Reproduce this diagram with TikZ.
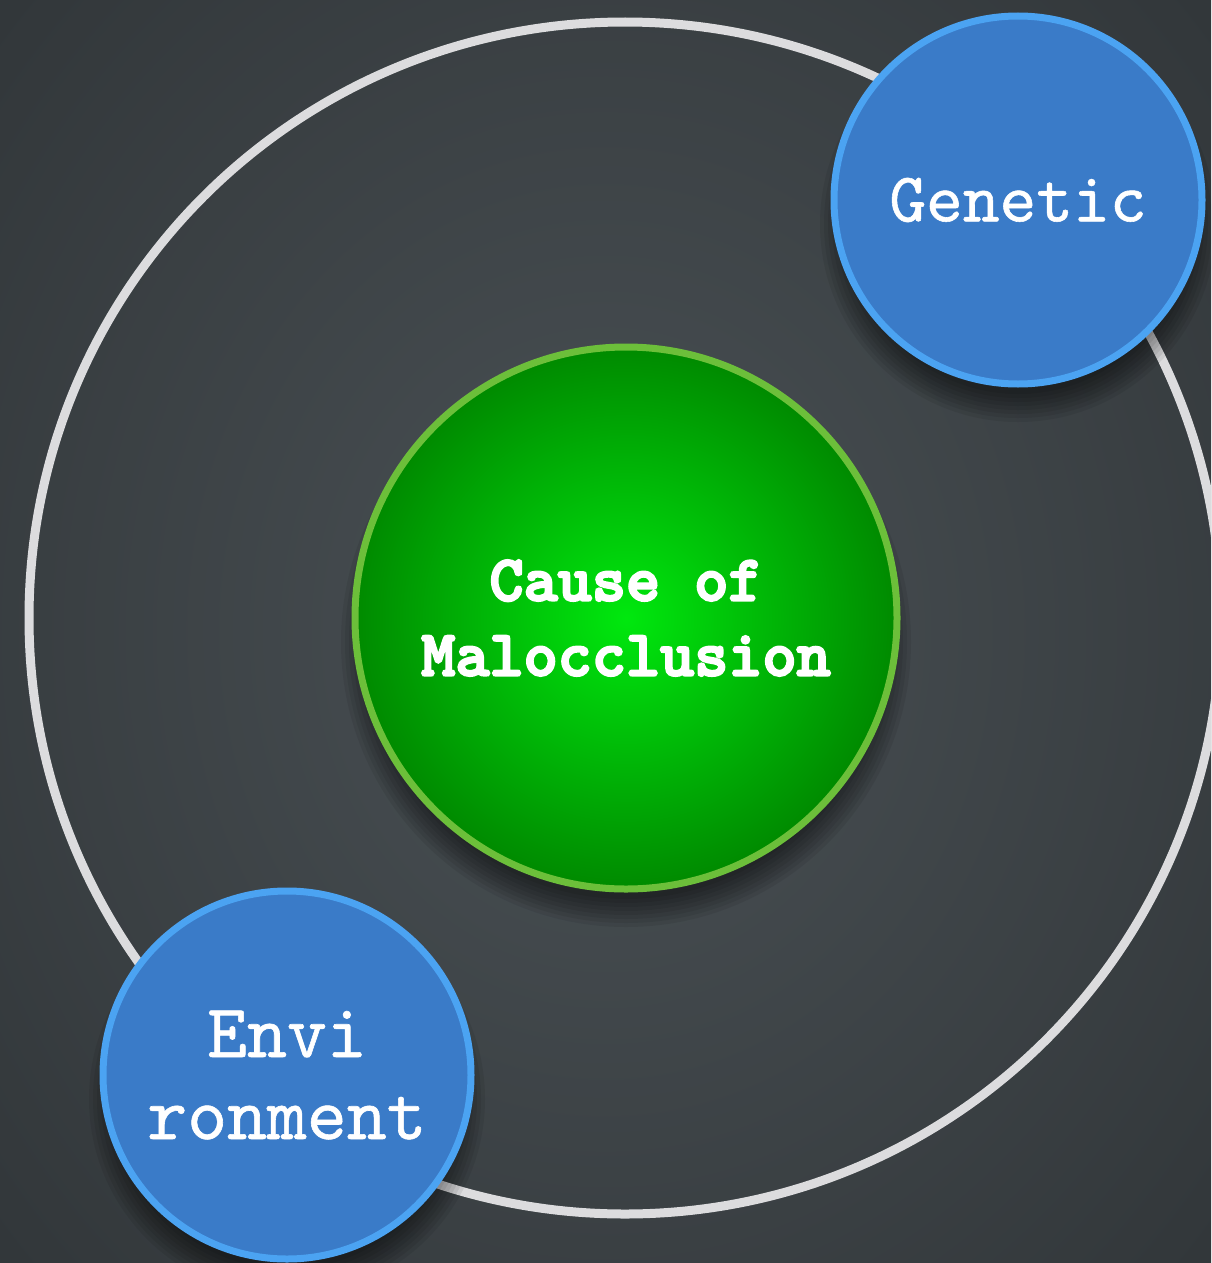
\documentclass[tikz,border=0pt]{standalone}
\usepackage{fontspec}
\usepackage{tikz}

\newfontfamily\causefont{lmmonolt10-bold}[Extension=.otf, FakeBold=3.5]
\newfontfamily\factorfont{lmmono10-regular}[Extension=.otf, FakeBold=0.8]

\definecolor{bgmid}{HTML}{4A5155}
\definecolor{bgedge}{HTML}{32373A}
\definecolor{ringgray}{HTML}{DCDCDE}
\definecolor{causecore}{HTML}{00E80E}
\definecolor{causeedge}{HTML}{008A00}
\definecolor{causeline}{HTML}{6CBF3A}
\definecolor{factorfill}{HTML}{3A7BC8}
\definecolor{factorline}{HTML}{4BA3F2}

\newcommand{\castshadow}[3]{%
  \foreach \k in {0,1,...,7}{\fill[black, opacity=0.07] (#1,#2+24) circle[radius=#3-14+\k*4];}}

\tikzset{
  factor/.style={circle, minimum size=368pt, inner sep=0pt, draw=factorline,
    line width=7pt, fill=factorfill, text=white, align=center,
    font=\factorfont\fontsize{70}{82}\selectfont},
  cause/.style={circle, minimum size=542pt, inner sep=0pt, draw=causeline,
    line width=7pt, inner color=causecore, outer color=causeedge, text=white,
    align=center, font=\causefont\fontsize{65}{75}\selectfont},
}

\begin{document}
\begin{tikzpicture}[x=1pt, y=-1pt]
\useasboundingbox (0,0) rectangle (1211,1263);
\clip (0,0) rectangle (1211,1263);
\shade[inner color=bgmid, outer color=bgedge] (-200,-300) rectangle (1411,1563);
% outer ring
\draw[ringgray, line width=9pt] (625,618) circle[radius=596];
% centre
\castshadow{626}{618}{271}
\node[cause] (cause) at (626,618) {Cause of\\Malocclusion};
% factors
\castshadow{1018}{200}{184}
\castshadow{287}{1075}{184}
\node[factor] (genetic) at (1018,200) {Genetic};
\node[factor, font=\factorfont\fontsize{76}{82}\selectfont] (environment) at (287,1075) {Envi\\ronment};
\end{tikzpicture}
\end{document}
